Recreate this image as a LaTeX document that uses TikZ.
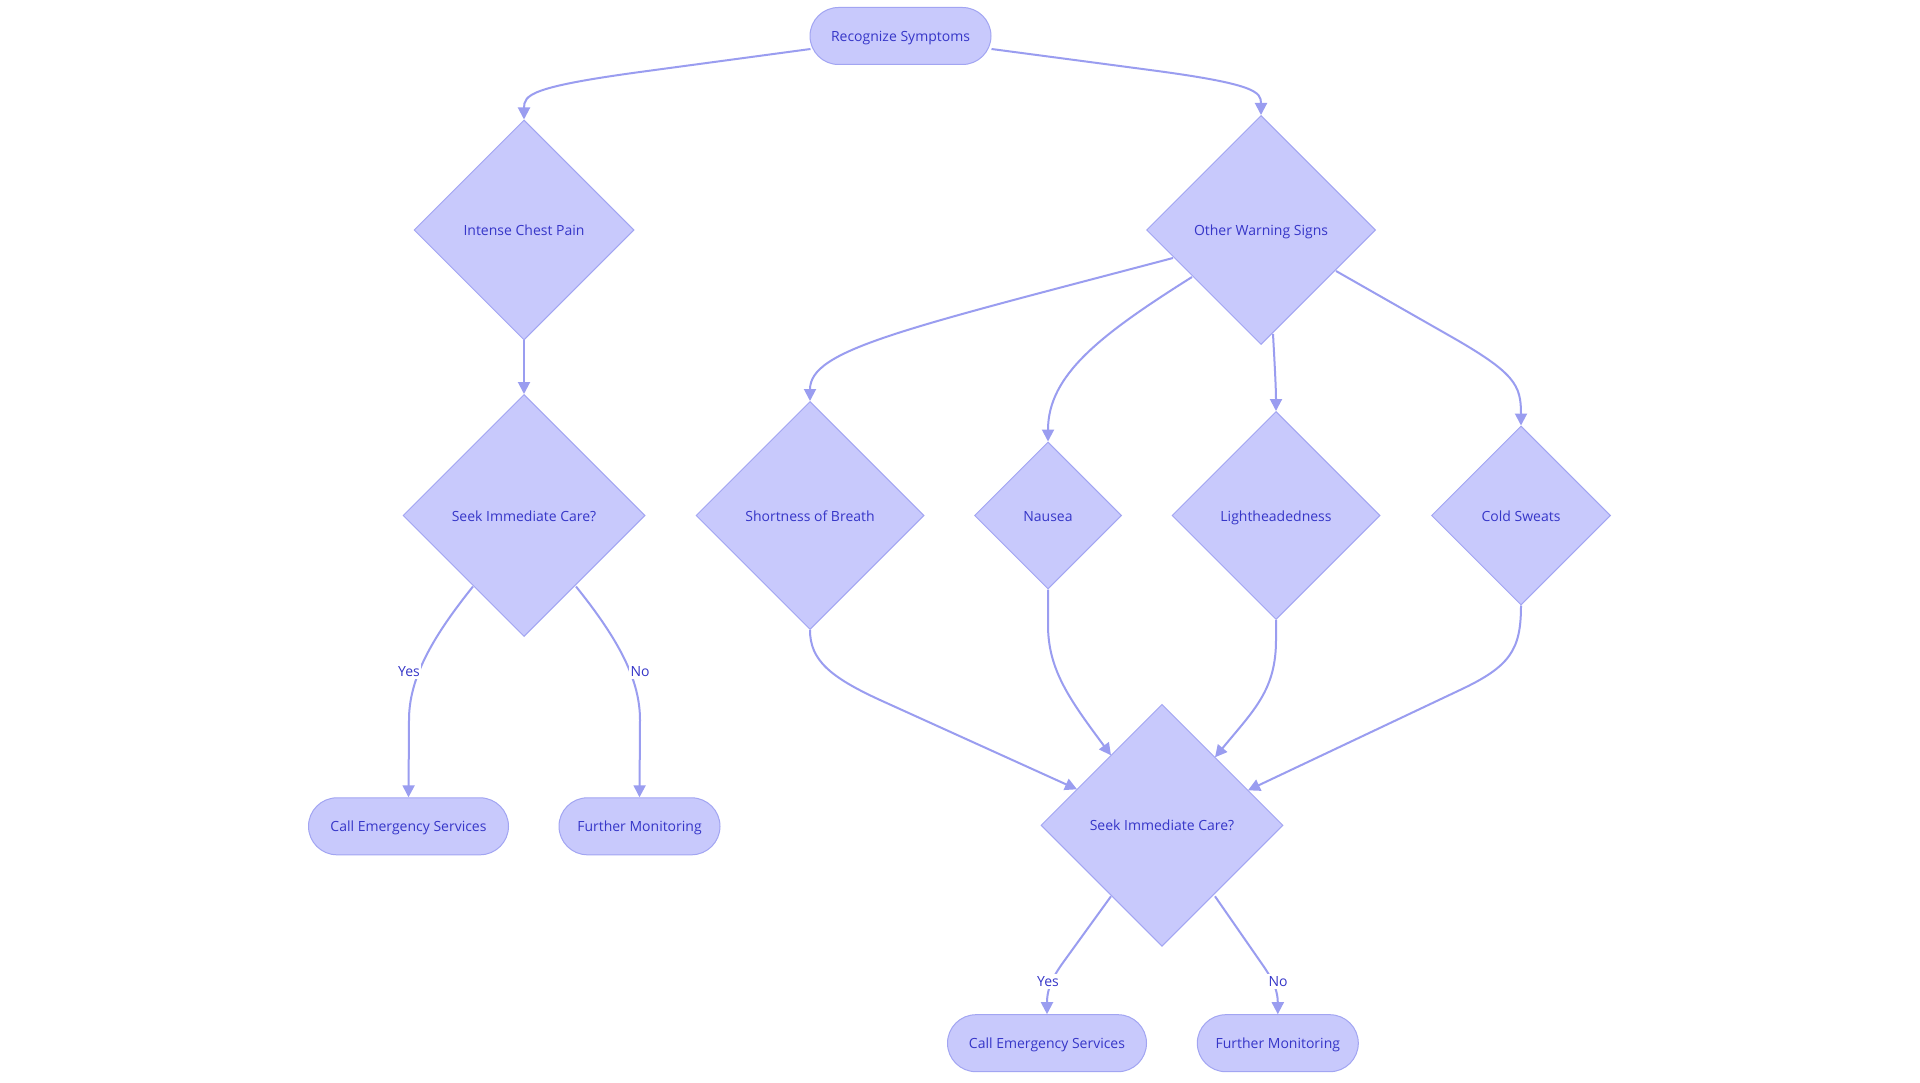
\documentclass[tikz,border=0pt]{standalone}
\usepackage{fontspec}
\setmainfont{Open Sans}
\usetikzlibrary{shapes.geometric,arrows.meta}
\definecolor{nodefill}{HTML}{C8C9FC}
\definecolor{nodeborder}{HTML}{A2A5F2}
\definecolor{edgec}{HTML}{9A9DF0}
\definecolor{txt}{HTML}{3636C8}
\pgfdeclarelayer{bg}
\pgfsetlayers{bg,main}
\newcommand{\fs}{\fontsize{14}{17}\selectfont}
\tikzset{
  stad/.style={draw=nodeborder, fill=nodefill, rounded corners=28.5pt, minimum height=57pt, inner sep=0pt, text=txt, font=\fs, line width=1pt, text height=11pt, text depth=0pt},
  dia/.style={diamond, aspect=1, draw=nodeborder, fill=nodefill, inner sep=0pt, text=txt, font=\fs, line width=1pt, text height=11pt, text depth=0pt},
  conn/.style={draw=edgec, line width=2pt, -{Triangle[length=12pt,width=12pt]}},
  lbl/.style={fill=white, text=txt, font=\fs, inner sep=1.5pt, text height=11pt, text depth=1pt}
}
\begin{document}
\begin{tikzpicture}[x=1pt,y=-1pt]
\begin{pgfonlayer}{bg}
\fill[white] (0,0) rectangle (1920,1083);
\end{pgfonlayer}
\useasboundingbox (0,0) rectangle (1920,1083);
% nodes
\node[stad, minimum width=181pt] (rec) at (900.5,36) {Recognize Symptoms};
\node[dia, minimum width=220pt, minimum height=220pt] (ics) at (524,230) {Intense Chest Pain};
\node[dia, minimum width=229pt, minimum height=229pt] (ows) at (1261,230) {Other Warning Signs};
\node[dia, minimum width=242pt, minimum height=242pt] (sl) at (524,515.5) {Seek Immediate Care?};
\node[dia, minimum width=228pt, minimum height=228pt] (sob) at (810,515.5) {Shortness of Breath};
\node[dia, minimum width=147pt, minimum height=147pt] (nau) at (1048,515.5) {Nausea};
\node[dia, minimum width=208pt, minimum height=208pt] (lig) at (1276,515.5) {Lightheadedness};
\node[dia, minimum width=179pt, minimum height=179pt] (cs) at (1521,515.5) {Cold Sweats};
\node[dia, minimum width=242pt, minimum height=242pt] (sr) at (1162,825.3) {Seek Immediate Care?};
\node[stad, minimum width=200pt] (cl) at (408.5,826.3) {Call Emergency Services};
\node[stad, minimum width=161pt] (fl) at (639.5,826.3) {Further Monitoring};
\node[stad, minimum width=199pt] (cr) at (1047,1043.2) {Call Emergency Services};
\node[stad, minimum width=161pt] (fr) at (1277.8,1043.2) {Further Monitoring};
% edges
\begin{pgfonlayer}{bg}
\draw[conn] ([shift={(-90,13)}]rec.center) -- (640,72) .. controls (530,87) and (524,95) .. (ics.north);
\draw[conn] ([shift={(91,13)}]rec.center) -- (1150,70) .. controls (1256,84) and (1261,92) .. (ows.north);
\draw[conn] (ics.south) -- (sl.north);
\draw[conn] ([shift={(-88,28)}]ows.center) .. controls (900,330) and (810,350) .. (sob.north);
\draw[conn] ([shift={(-69,47)}]ows.center) .. controls (1100,335) and (1048,375) .. (nau.north);
\draw[conn] ([shift={(12,104)}]ows.center) .. controls (1275,370) and (1276,390) .. (lig.north);
\draw[conn] ([shift={(75,41)}]ows.center) -- (1450,336) .. controls (1515,373) and (1521,385) .. (cs.north);
\draw[conn] (sob.south) .. controls (810,660) and (830,677) .. (880,700) -- ([shift={(-85,-36)}]sr.center);
\draw[conn] (nau.south) -- (1048,625) .. controls (1048,670) and (1070,700) .. ([shift={(-51,-70)}]sr.center);
\draw[conn] (lig.south) -- (1276,640) .. controls (1276,690) and (1254,710) .. ([shift={(53,-68)}]sr.center);
\draw[conn] (cs.south) .. controls (1521,650) and (1510,666.5) .. (1460,690) -- ([shift={(86,-35)}]sr.center);
\draw[conn] ([shift={(-51,71)}]sl.center) .. controls (430,640) and (409,680) .. (409,720) -- (cl.north);
\draw[conn] ([shift={(52,71)}]sl.center) .. controls (619,640) and (640,680) .. (640,720) -- (fl.north);
\draw[conn] ([shift={(-51,71)}]sr.center) -- (1062,964) .. controls (1050,981) and (1047,992) .. (cr.north);
\draw[conn] ([shift={(53,71)}]sr.center) -- (1262,964) .. controls (1274,981) and (1277.8,992) .. (fr.north);
\end{pgfonlayer}
% edge labels
\node[lbl] (y1) at (409,671) {Yes};
\node[lbl] (n1) at (640,671) {No};
\node[lbl] (y2) at (1048,981) {Yes};
\node[lbl] (n2) at (1278,981) {No};
\end{tikzpicture}
\end{document}
